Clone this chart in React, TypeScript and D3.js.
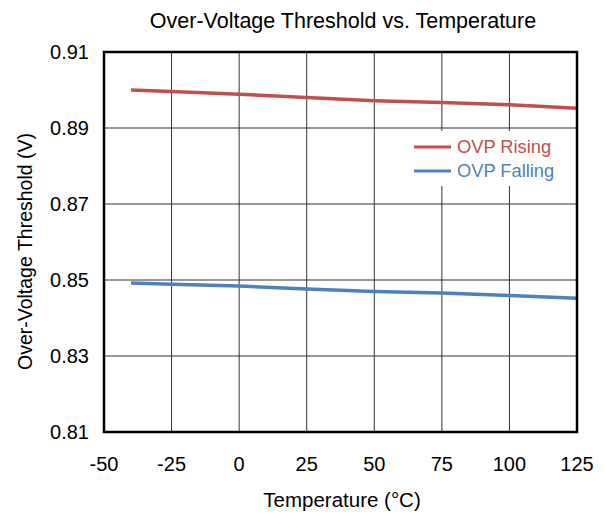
import { useEffect, useRef } from "react";
import * as d3 from "d3";

const temps = [-40, -25, 0, 25, 50, 75, 100, 125];
const ovpRising = [0.9, 0.8996, 0.8989, 0.898, 0.8972, 0.8967, 0.8961, 0.8952];
const ovpFalling = [0.8492, 0.8489, 0.8484, 0.8476, 0.847, 0.8466, 0.8459, 0.8452];
const xTicks = [-50, -25, 0, 25, 50, 75, 100, 125];
const yTicks = [0.81, 0.83, 0.85, 0.87, 0.89, 0.91];
const seriesNames = ["OVP Rising", "OVP Falling"];
const seriesColors = ["#C0504D", "#4F81BD"];

function App() {
    const svgRef = useRef<SVGSVGElement>(null);
    const width = 605, height = 514;
    const margin = { top: 52, right: 28, bottom: 82, left: 104 };

    useEffect(() => {
        const svg = d3.select(svgRef.current);
        svg.selectAll("*").remove();
        const font = "'Liberation Sans', Arial, sans-serif";

        const x = d3.scaleLinear().domain([-50, 125]).range([margin.left, width - margin.right]);
        const y = d3.scaleLinear().domain([0.81, 0.91]).range([height - margin.bottom, margin.top]);

        svg.append("rect").attr("width", width).attr("height", height).attr("fill", "#fff");

        // grid
        svg.append("g")
            .selectAll("line")
            .data(xTicks.slice(1, -1))
            .enter().append("line")
            .attr("x1", d => x(d)).attr("x2", d => x(d))
            .attr("y1", y(0.81)).attr("y2", y(0.91))
            .attr("stroke", "#333").attr("stroke-width", 1);
        svg.append("g")
            .selectAll("line")
            .data(yTicks.slice(1, -1))
            .enter().append("line")
            .attr("x1", x(-50)).attr("x2", x(125))
            .attr("y1", d => y(d)).attr("y2", d => y(d))
            .attr("stroke", "#333").attr("stroke-width", 1);

        // series
        const line = d3.line<number>()
            .x((_, i) => x(temps[i]))
            .y(d => y(d));
        [ovpRising, ovpFalling].forEach((vals, i) => {
            svg.append("path")
                .datum(vals)
                .attr("d", line)
                .attr("fill", "none")
                .attr("stroke", seriesColors[i])
                .attr("stroke-width", 3.5);
        });

        // legend (white box hides grid behind it)
        svg.append("rect")
            .attr("x", 406).attr("y", 131)
            .attr("width", 160).attr("height", 55)
            .attr("fill", "#fff");
        seriesNames.forEach((name, i) => {
            const ly = 147 + i * 24;
            svg.append("line")
                .attr("x1", 414).attr("x2", 451)
                .attr("y1", ly).attr("y2", ly)
                .attr("stroke", seriesColors[i]).attr("stroke-width", 3);
            svg.append("text")
                .attr("x", 457).attr("y", ly).attr("dy", "0.35em")
                .attr("font-family", font).attr("font-size", 18.3)
                .attr("fill", seriesColors[i])
                .text(name);
        });

        // border
        svg.append("rect")
            .attr("x", x(-50)).attr("y", y(0.91))
            .attr("width", x(125) - x(-50)).attr("height", y(0.81) - y(0.91))
            .attr("fill", "none").attr("stroke", "#000").attr("stroke-width", 2.5);

        // tick labels
        svg.append("g")
            .selectAll("text")
            .data(yTicks)
            .enter().append("text")
            .attr("x", x(-50) - 15).attr("y", d => y(d))
            .attr("dy", "0.35em")
            .attr("text-anchor", "end")
            .attr("font-family", font).attr("font-size", 20)
            .text(d => d.toFixed(2));
        svg.append("g")
            .selectAll("text")
            .data(xTicks)
            .enter().append("text")
            .attr("x", d => x(d)).attr("y", y(0.81) + 32)
            .attr("dy", "0.35em")
            .attr("text-anchor", "middle")
            .attr("font-family", font).attr("font-size", 20)
            .text(d => String(d));

        // titles
        svg.append("text")
            .attr("x", 343).attr("y", 28)
            .attr("text-anchor", "middle")
            .attr("font-family", font).attr("font-size", 21.5)
            .text("Over-Voltage Threshold vs. Temperature");
        svg.append("text")
            .attr("x", 342).attr("y", 507)
            .attr("text-anchor", "middle")
            .attr("font-family", font).attr("font-size", 20.5)
            .text("Temperature (\u00B0C)");
        svg.append("text")
            .attr("transform", `translate(32, ${y(0.8575)}) rotate(-90)`)
            .attr("text-anchor", "middle")
            .attr("font-family", font).attr("font-size", 19.5)
            .text("Over-Voltage Threshold (V)");
    }, []);

    return (
        <svg ref={svgRef} width={width} height={height}
            style={{ position: "absolute", left: 0, top: 0 }}></svg>
    );
}

export default App;
